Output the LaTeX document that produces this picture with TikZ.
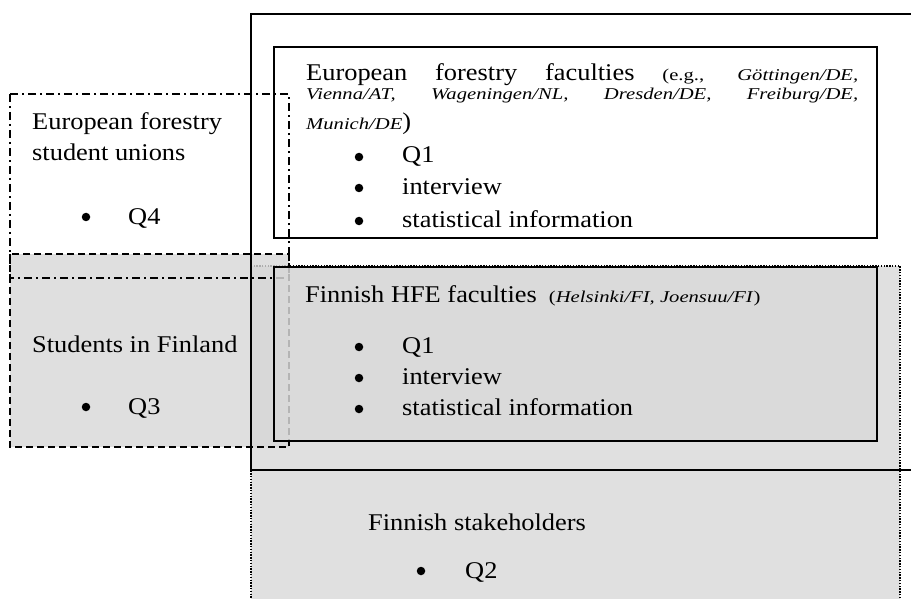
\documentclass[tikz,border=0pt]{standalone}
\usepackage{fontspec}
\setmainfont[FakeStretch=1.1]{Liberation Serif}
\newfontfamily\narrowserif[FakeStretch=1.25]{Liberation Serif}
\definecolor{stakeGrey}{RGB}{224,224,224}
\definecolor{hfeGrey}{RGB}{217,217,217}
\definecolor{unionGrey}{RGB}{215,215,215}
\newcommand{\smallsz}{\narrowserif\fontsize{16.5}{19}\selectfont}

\begin{document}
\begin{tikzpicture}[x=1pt, y=-1pt,
		txt/.style={inner sep=0pt, anchor=base west, font=\fontsize{24}{29}\selectfont},
		dot/.style={circle, fill=black, inner sep=0pt, minimum size=8.5pt},
		frame/.style={line width=1.5pt},
		stakebox/.style={fill=stakeGrey, line width=1.4pt, dash pattern=on 1.4pt off 1.4pt},
		finbox/.style={fill=unionGrey, fill opacity=0.8, line width=1.3pt, dash pattern=on 7pt off 4pt},
		unionbox/.style={line width=1.3pt, dash pattern=on 8pt off 4pt on 2pt off 4pt},
		hfebox/.style={fill=hfeGrey, fill opacity=0.83, line width=1.5pt}]
		\useasboundingbox (0,0) rectangle (911,599);
		\clip (0,0) rectangle (911,599);
		
		\draw[stakebox] (251,266) rectangle (900,620);
		\draw[finbox] (10,254) rectangle (289,447);
		\draw[frame] (251,14) rectangle (930,470);
		\draw[unionbox] (10,94) rectangle (289,278);
		\draw[frame] (274,47) rectangle (877,238);
		\draw[hfebox] (274,267) rectangle (877,441);
		
		\node[txt] (eu1) at (306,81) {\makebox[552pt][s]{European forestry faculties {\smallsz(e.g.,} {\smallsz\itshape Göttingen/DE,}}};
		\node[txt] (eu2) at (306,100) {\smallsz\itshape\makebox[552pt][s]{Vienna/AT, Wageningen/NL, Dresden/DE, Freiburg/DE,}};
		\node[txt] (eu3) at (306,130) {{\smallsz\itshape Munich/DE})};
		\node[dot] (eud1) at (359,157) {};
		\node[txt] (euq1) at (402,163) {Q1};
		\node[dot] (eud2) at (359,188) {};
		\node[txt] (euq2) at (402,194) {interview};
		\node[dot] (eud3) at (359,221) {};
		\node[txt] (euq3) at (402,227) {statistical information};
		
		\node[txt] (fi1) at (305,302) {Finnish HFE faculties\hspace{12pt}{\smallsz(\textit{Helsinki/FI, Joensuu/FI})}};
		\node[dot] (fid1) at (359,347) {};
		\node[txt] (fiq1) at (402,353) {Q1};
		\node[dot] (fid2) at (359,378) {};
		\node[txt] (fiq2) at (402,384) {interview};
		\node[dot] (fid3) at (359,409) {};
		\node[txt] (fiq3) at (402,415) {statistical information};
		
		\node[txt] (un1) at (32,130) {European forestry};
		\node[txt] (un2) at (32,161) {student unions};
		\node[dot] (und) at (86,217) {};
		\node[txt] (unq) at (128,224) {Q4};
		
		\node[txt] (st1) at (32,352) {Students in Finland};
		\node[dot] (std) at (86,407) {};
		\node[txt] (stq) at (128,414) {Q3};
		
		\node[txt] (sh1) at (368,530) {Finnish stakeholders};
		\node[dot] (shd) at (421,571) {};
		\node[txt] (shq) at (465,578) {Q2};
	\end{tikzpicture}
\end{document}
